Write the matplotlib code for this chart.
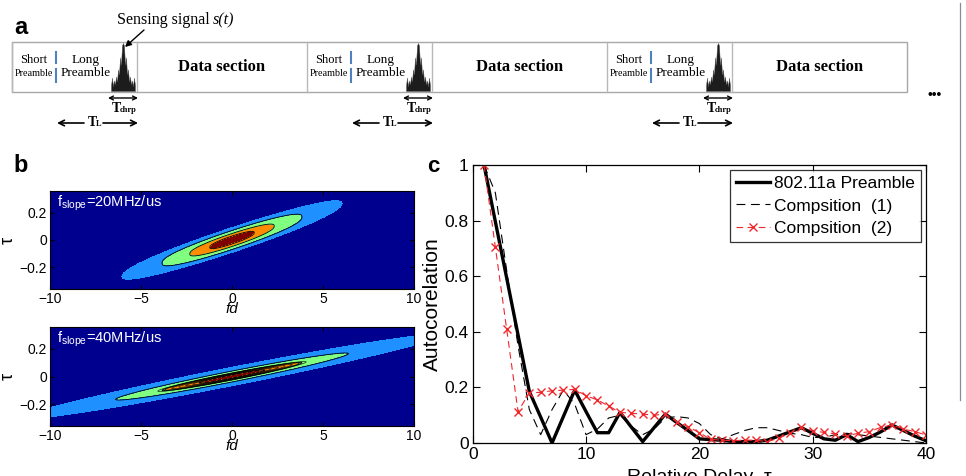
import numpy as np
import matplotlib.pyplot as plt
from matplotlib.patches import Rectangle

plt.rcParams['font.family'] = ['Liberation Sans', 'DejaVu Sans']
plt.rcParams['mathtext.default'] = 'regular'

# ---- panel c: autocorrelation vs relative delay ----
delay = np.arange(1, 41)
preamble = [1.0, 0.796, 0.593, 0.389, 0.185, 0.093, 0.0, 0.095, 0.19, 0.113,
            0.037, 0.037, 0.11, 0.057, 0.005, 0.055, 0.104, 0.074, 0.045, 0.015,
            0.012, 0.01, 0.005, 0.005, 0.005, 0.01, 0.025, 0.04, 0.055, 0.035,
            0.015, 0.01, 0.03, 0.005, 0.02, 0.04, 0.065, 0.045, 0.025, 0.008]
comp1 = [1.0, 0.9, 0.62, 0.35, 0.12, 0.03, 0.12, 0.19, 0.14, 0.03,
         0.05, 0.09, 0.1, 0.06, 0.03, 0.05, 0.09, 0.095, 0.09, 0.07,
         0.03, 0.015, 0.03, 0.045, 0.055, 0.055, 0.045, 0.035, 0.03, 0.02,
         0.02, 0.03, 0.035, 0.03, 0.025, 0.02, 0.015, 0.01, 0.005, 0.0]
comp2 = [1.0, 0.704, 0.409, 0.113, 0.181, 0.182, 0.188, 0.19, 0.193, 0.17,
         0.155, 0.133, 0.11, 0.107, 0.104, 0.10, 0.104, 0.077, 0.059, 0.037,
         0.013, 0.01, 0.008, 0.01, 0.01, 0.005, 0.017, 0.035, 0.056, 0.044,
         0.038, 0.033, 0.025, 0.035, 0.041, 0.056, 0.065, 0.05, 0.041, 0.029]
legend_names = ['802.11a Preamble', 'Compsition  (1)', 'Compsition  (2)']

# ---- panel b: ambiguity function contours (slope, half length, half width) ----
slopes_mhz = [20, 40]
ridge_slope = [0.044, 0.026]
ridge_len = [6.1, 12.0]
ridge_wid = [0.10, 0.075]
ridge_pow = [2.6, 2.0]
ridge_levels = [[0.2, 0.38, 0.63], [0.15, 0.32, 0.533]]
jet_cols = ['#800000', '#FF8C00', '#80FF80', '#1E90FF', '#00008F']

# ---- panel a: frame layout (pixels) ----
frame_starts = [12, 307, 607]
frame_end = 907
chirp_env = [0.12, 0.28, 0.10, 0.22, 0.14, 0.30, 0.20, 0.45, 0.35, 0.70, 0.55, 0.95,
             1.0, 0.95, 0.55, 0.70, 0.35, 0.45, 0.20, 0.30, 0.14, 0.22, 0.10, 0.28, 0.12]

fig = plt.figure(figsize=(9.66, 4.76), dpi=100)
W, H = 966, 476

# overlay in pixel coordinates for the schematic and panel letters
ov = fig.add_axes([0, 0, 1, 1])
ov.set_xlim(0, W)
ov.set_ylim(H, 0)
ov.axis('off')

serif = 'Liberation Serif'
top, bot = 42, 92
ov.add_patch(Rectangle((frame_starts[0], top), frame_end - frame_starts[0], bot - top,
                       fill=False, ec='#A8A8A8', lw=1.0))
ends = frame_starts[1:] + [frame_end]
for x0, x1 in zip(frame_starts, ends):
    xd = x0 + 125
    ov.plot([x0, x0], [top, bot], color='#B8B8B8', lw=1.0)
    ov.plot([xd, xd], [top, bot], color='#B8B8B8', lw=1.0)
    ov.text(x0 + 22, 60, 'Short', family=serif, fontsize=9, ha='center', va='center')
    ov.text(x0 + 22, 73, 'Preamble', family=serif, fontsize=7.3, ha='center', va='center')
    ov.plot([x0 + 44, x0 + 44], [52, 63], color='#4F81BD', lw=1.5)
    ov.plot([x0 + 44, x0 + 44], [69, 82], color='#4F81BD', lw=1.5)
    ov.text(x0 + 74, 60, 'Long', family=serif, fontsize=9.5, ha='center', va='center')
    ov.text(x0 + 74, 73, 'Preamble', family=serif, fontsize=9.5, ha='center', va='center')
    ov.text((xd + x1) / 2, 67, 'Data section', family=serif, fontsize=12,
            fontweight='bold', ha='center', va='center')
    # sensing chirp shape
    xs = np.linspace(xd - 26, xd - 2, len(chirp_env))
    ov.fill_between(xs, bot - 1, bot - 1 - np.array(chirp_env) * 48,
                    color='#1c1c1c', lw=0.3, ec='#555555')
    # T_chrp arrow
    ov.annotate('', xy=(xd - 29, 98), xytext=(xd + 1, 98),
                arrowprops=dict(arrowstyle='<->', lw=1.0, color='black',
                                shrinkA=0, shrinkB=0, mutation_scale=7))
    ov.text(xd - 21, 109, 'T', family=serif, fontsize=10, fontweight='bold',
            ha='center', va='center')
    ov.text(xd - 17.5, 110.5, 'chrp', family=serif, fontsize=6, fontweight='bold',
            ha='left', va='center')
    # T_L arrow
    ov.annotate('', xy=(xd - 80, 123), xytext=(xd - 53, 123),
                arrowprops=dict(arrowstyle='->', lw=1.2, color='black',
                                shrinkA=0, shrinkB=0, mutation_scale=10))
    ov.annotate('', xy=(xd + 1, 123), xytext=(xd - 34, 123),
                arrowprops=dict(arrowstyle='->', lw=1.2, color='black',
                                shrinkA=0, shrinkB=0, mutation_scale=10))
    ov.text(xd - 45, 123, 'T', family=serif, fontsize=10, fontweight='bold',
            ha='center', va='center')
    ov.text(xd - 41.5, 124.5, 'L', family=serif, fontsize=6, fontweight='bold',
            ha='left', va='center')

ov.text(210, 20, 'Sensing signal', family=serif, fontsize=11.5, ha='right', va='center')
ov.text(213, 20, 's(t)', family=serif, fontsize=11.5, style='italic', ha='left', va='center')
ov.annotate('', xy=(125, 47), xytext=(144, 30),
            arrowprops=dict(arrowstyle='-|>', lw=1.0, color='black',
                            shrinkA=0, shrinkB=0, mutation_scale=9))
ov.text(935, 95, '\u2022\u2022\u2022', fontsize=10, ha='center', va='center')
ov.plot([960, 960], [3, 400], color='#8C8C8C', lw=0.9)

ov.text(21, 27, 'a', fontsize=17, fontweight='bold', ha='center', va='center')
ov.text(21, 165, 'b', fontsize=17, fontweight='bold', ha='center', va='center')
ov.text(433, 167, 'c', fontsize=16, fontweight='bold', ha='center', va='center')

# ---- panel b ----
fd = np.linspace(-10, 10, 600)
tau = np.linspace(-0.37, 0.37, 500)
FD, TAU = np.meshgrid(fd, tau)
b_rects = [[50 / W, 1 - 289 / H, 364 / W, 98 / H],
           [50 / W, 1 - 426 / H, 364 / W, 99 / H]]
for i in range(2):
    ax = fig.add_axes(b_rects[i])
    off = np.abs(TAU - ridge_slope[i] * FD) / ridge_wid[i]
    r = np.sqrt((FD / ridge_len[i]) ** 2 + off ** ridge_pow[i])
    lv = ridge_levels[i]
    ax.contourf(FD, TAU, r, levels=[0] + lv + [1.0, r.max() + 1], colors=jet_cols)
    ax.contour(FD, TAU, r, levels=lv, colors='black', linewidths=0.6)
    if i == 1:
        extra = np.linspace(lv[0] + 0.03, lv[1] + 0.02, 6)
        ax.contour(FD, TAU, r, levels=extra, colors='black', linewidths=0.4)
    ax.set_xlim(-10, 10)
    ax.set_ylim(-0.36, 0.36)
    ax.set_xticks([-10, -5, 0, 5, 10])
    ax.set_yticks([-0.2, 0, 0.2])
    ax.set_yticklabels(['\u22120.2', '0', '0.2'])
    ax.tick_params(direction='in', top=True, right=True, labelsize=10, length=3,
                   pad=2, colors='black')
    ax.set_xlabel('fd', fontsize=11, style='italic', labelpad=-3)
    ax.set_ylabel('\u03c4', fontsize=13, labelpad=2)
    for s in ax.spines.values():
        s.set_linewidth(0.8)
    ax.text(-9.6, 0.27, 'f$_{slope}$=%dMHz/us' % slopes_mhz[i], color='white',
            fontsize=10.5, va='center', ha='left')

# ---- panel c ----
axc = fig.add_axes([472.7 / W, 1 - 443 / H, 453.3 / W, 278 / H])
axc.plot(delay, preamble, color='black', lw=2.4, label=legend_names[0])
axc.plot(delay, comp1, color='black', lw=0.8, ls=(0, (8, 5)), label=legend_names[1])
axc.plot(delay, comp2, color='#F0282C', lw=0.8, ls=(0, (6, 4)), marker='x', ms=6,
         mew=1.0, label=legend_names[2])
axc.set_xlim(0, 40)
axc.set_ylim(0, 1)
axc.set_xticks([0, 10, 20, 30, 40])
axc.set_yticks([0, 0.2, 0.4, 0.6, 0.8, 1])
axc.set_yticklabels(['0', '0.2', '0.4', '0.6', '0.8', '1'])
axc.tick_params(direction='in', top=True, right=True, labelsize=12.5, length=5, pad=3)
axc.set_ylabel('Autocorelation', fontsize=15, labelpad=2)
axc.set_xlabel('Relative Delay  \u03c4', fontsize=14, labelpad=5)
for s in axc.spines.values():
    s.set_linewidth(0.9)
leg = axc.legend(loc='upper right', fontsize=12.5, frameon=True, fancybox=False,
                 edgecolor='black', borderaxespad=0.3, handlelength=2.0,
                 handletextpad=0.2, labelspacing=0.4, borderpad=0.35)
leg.get_frame().set_linewidth(0.9)

fig.savefig('out.png', dpi=100)
